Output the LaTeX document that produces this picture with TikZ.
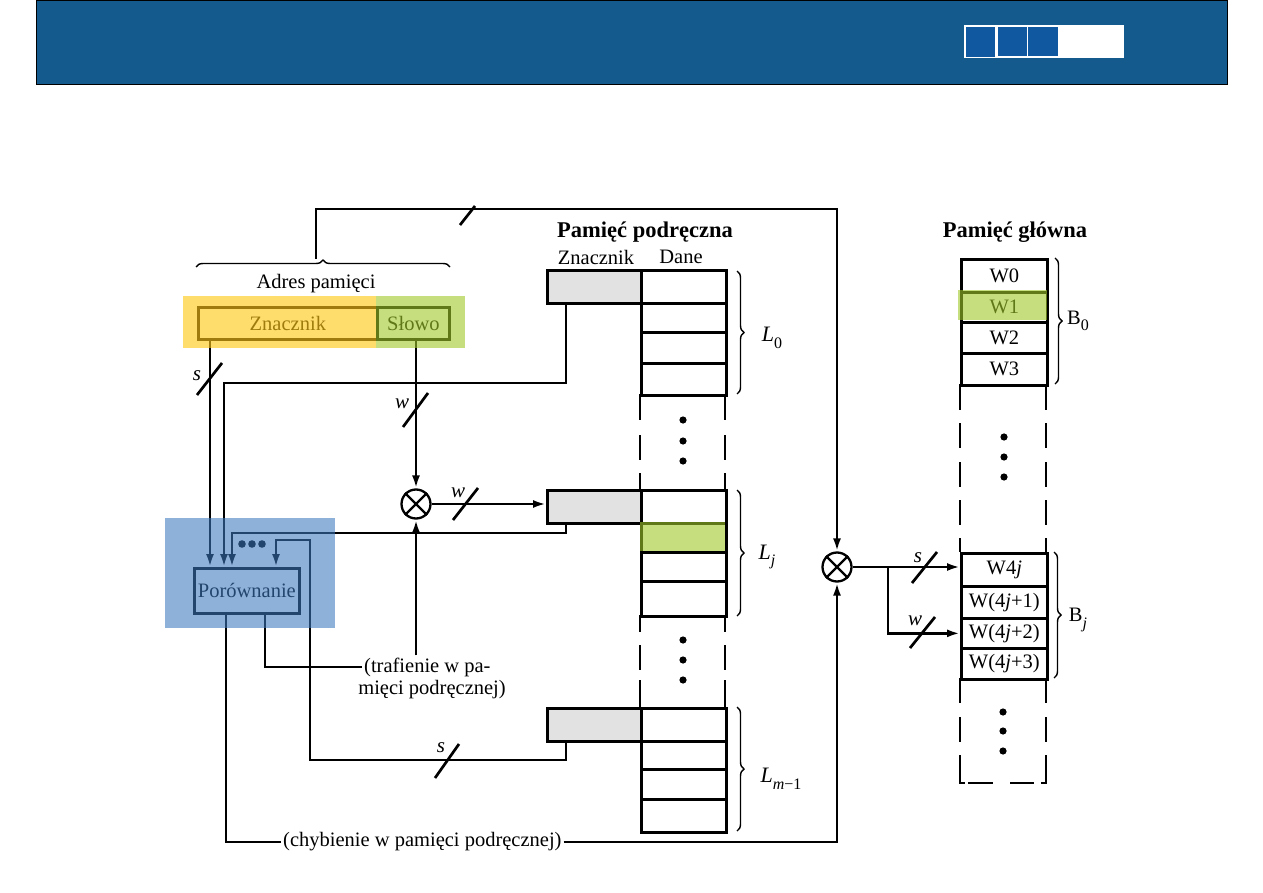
\documentclass[tikz,border=0pt]{standalone}
\usepackage{fontspec}
\setmainfont{Liberation Serif}
\usetikzlibrary{arrows.meta,decorations.pathreplacing}
\definecolor{barblue}{RGB}{21,90,140}
\definecolor{sqblue}{RGB}{16,88,160}
\definecolor{hlyellow}{RGB}{255,200,20}
\definecolor{hlgreen}{RGB}{160,200,40}
\definecolor{hlblue}{RGB}{60,120,190}
\definecolor{tagfill}{RGB}{226,226,226}
\newcommand\lsub[1]{\raisebox{-0.3em}{\fontsize{16}{16}\selectfont #1}}
\begin{document}
\begin{tikzpicture}[x=1pt,y=-1pt,
  txt/.style={font=\fontsize{20.5}{24}\selectfont},
  head/.style={font=\fontsize{22.5}{26}\selectfont\bfseries},
  lab/.style={font=\fontsize{21}{24}\selectfont\itshape,inner sep=0pt},
  ln/.style={line width=2.7pt},
  arr/.style={ln,-{Latex[length=13pt,width=8pt]}},
  slashln/.style={line width=2.7pt},
  box/.style={draw,line width=2.7pt,inner sep=0pt,anchor=north west},
  tagbox/.style={box,fill=tagfill,minimum width=94pt,minimum height=33pt},
  crow/.style={box,minimum width=85pt},
  mrow/.style={box,minimum width=86pt,font=\fontsize{20.5}{24}\selectfont},
  mix/.style={circle,draw,line width=2.3pt,minimum size=29pt,inner sep=0pt},
  brc/.style={decorate,decoration={brace,amplitude=7pt},line width=1.4pt},
  dot/.style={fill=black}
]
\useasboundingbox (0,0) rectangle (1263,893);
% header bar
\fill[barblue] (36,0) rectangle (1227,84);
\draw[black,line width=0.8pt] (36,0.4) rectangle (1227,84);
\fill[white] (964,25) rectangle (1124,58);
\fill[sqblue] (966,27.5) rectangle (995,57.5);
\fill[sqblue] (997.5,27) rectangle (1026.5,56.5);
\fill[sqblue] (1028,27) rectangle (1058,56.5);

% memory address
\node[txt] (adres) at (316,284) {Adres pamięci};
\node[box,txt,minimum width=179pt,minimum height=32pt] (zn) at (197,306) {Znacznik};
\node[box,txt,minimum width=72pt,minimum height=32pt] (slowo) at (376,306) {Słowo};
\draw[brc] (196,267) -- (450,267);
\coordinate (bt) at (316,259);

% comparator
\node[box,txt,minimum width=105pt,minimum height=45pt] (porow) at (193,567) {Porównanie};

% cache
\node[head] (phead) at (645,232) {Pamięć podręczna};
\node[txt] (hz) at (596,257) {Znacznik};
\node[txt] (hd) at (681,257) {Dane};

\node[tagbox] (tag0) at (546,269) {};
\node[crow,minimum height=33pt] (c0a) at (640,269) {};
\node[crow,minimum height=29pt] (c0b) at (640,302) {};
\node[crow,minimum height=31pt] (c0c) at (640,331) {};
\node[crow,minimum height=32pt] (c0d) at (640,362) {};

\node[tagbox] (tagj) at (546,489) {};
\node[crow,minimum height=33pt] (cja) at (640,489) {};
\node[crow,minimum height=29pt] (cjb) at (640,522) {};
\node[crow,minimum height=29pt] (cjc) at (640,551) {};
\node[crow,minimum height=35pt] (cjd) at (640,580) {};

\node[tagbox] (tagm) at (546,707) {};
\node[crow,minimum height=33pt] (cma) at (640,707) {};
\node[crow,minimum height=28pt] (cmb) at (640,740) {};
\node[crow,minimum height=30pt] (cmc) at (640,768) {};
\node[crow,minimum height=33pt] (cmd) at (640,798) {};

\foreach \x in {640,725}{
  \draw[ln] (\x,394) -- (\x,420); \draw[ln] (\x,435) -- (\x,460); \draw[ln] (\x,473) -- (\x,489);
  \draw[ln] (\x,615) -- (\x,632); \draw[ln] (\x,645) -- (\x,670); \draw[ln] (\x,680) -- (\x,707);
}
\foreach \y in {420,441,461,640,660,680}{\fill[dot] (683,\y) circle (3.6);}

\draw[brc] (737,271) -- (737,394);
\draw[brc] (737,490) -- (737,616);
\draw[brc] (737,707) -- (737,831);
\node[lab,font=\fontsize{22}{24}\selectfont\itshape] (l0) at (772,338) {L\lsub{\upshape 0}};
\node[lab,font=\fontsize{22}{24}\selectfont\itshape] (lj) at (767,557) {L\lsub{j}};
\node[lab,font=\fontsize{22}{24}\selectfont\itshape] (lm) at (781,779) {L\lsub{m\upshape −1}};

% main memory
\node[head] (mhead) at (1015,232) {Pamięć główna};
\node[mrow,minimum height=33pt] (w0) at (960,258) {W0};
\node[mrow,minimum height=30pt] (w1) at (960,291) {W1};
\node[mrow,minimum height=31pt] (w2) at (960,321) {W2};
\node[mrow,minimum height=32pt] (w3) at (960,352) {W3};
\node[mrow,minimum height=33pt] (w4j) at (960,552) {W4\textit{j}};
\node[mrow,minimum height=32pt] (w4j1) at (960,585) {W(4\textit{j}+1)};
\node[mrow,minimum height=30pt] (w4j2) at (960,617) {W(4\textit{j}+2)};
\node[mrow,minimum height=31pt] (w4j3) at (960,647) {W(4\textit{j}+3)};
\foreach \x in {960,1046}{
  \draw[ln] (\x,384) -- (\x,410); \draw[ln] (\x,423) -- (\x,448); \draw[ln] (\x,462) -- (\x,487);
  \draw[ln] (\x,500) -- (\x,525); \draw[ln] (\x,538) -- (\x,552);
  \draw[ln] (\x,678) -- (\x,703); \draw[ln] (\x,717) -- (\x,742);
}
\draw[ln] (960,755) -- (960,783) -- (965,783);
\draw[ln] (968,783) -- (993,783);
\draw[ln] (1010,783) -- (1034,783);
\draw[ln] (1041,783) -- (1046,783) -- (1046,755);
\foreach \y in {437,457,477}{\fill[dot] (1004,\y) circle (3.6);}
\foreach \y in {712,731,751}{\fill[dot] (1003,\y) circle (3.6);}
\draw[brc] (1055,258) -- (1055,384);
\draw[brc] (1054,552) -- (1054,678);
\node[txt,inner sep=0pt] (b0) at (1078,321) {B\lsub{0}};
\node[txt,inner sep=0pt] (bj) at (1078,620) {B\lsub{\itshape j}};

% mixers
\node[mix] (mix1) at (416,504) {};
\draw[line width=2.3pt] (mix1.north west) -- (mix1.south east) (mix1.north east) -- (mix1.south west);
\node[mix] (mix2) at (837,567) {};
\draw[line width=2.3pt] (mix2.north west) -- (mix2.south east) (mix2.north east) -- (mix2.south west);

% texts
\node[txt,anchor=west,inner sep=2pt] (traf1) at (362,667) {(trafienie w pa-};
\node[txt,inner sep=0pt] (traf2) at (432,690) {mięci podręcznej)};
\node[txt,anchor=west,inner sep=2pt] (chyb) at (281,842) {(chybienie w pamięci podręcznej)};

% coordinates
\coordinate (xa) at (210,0);
\coordinate (xb) at (224,0);
\coordinate (xc) at (232,0);
\coordinate (xd) at (276,0);
\coordinate (xe) at (310,0);
\coordinate (xt) at (566,0);
\coordinate (xm) at (226,0);
\coordinate (xh) at (265,0);
\coordinate (xbr) at (888,0);
\coordinate (ya) at (0,383);
\coordinate (yb) at (0,533);
\coordinate (yc) at (0,540);
\coordinate (yd) at (0,760);
\coordinate (ytop) at (0,209);

% connectors
\draw[arr] (zn.south -| xa) -- (porow.north -| xa);
\draw[arr] (tag0.south -| xt) -- (xt |- ya) -| (porow.north -| xb);
\draw[arr] (tagj.south -| xt) -- (xt |- yb) -| (porow.north -| xc);
\draw[arr] (tagm.south -| xt) -- (xt |- yd) -| (xe |- yc) -| (porow.north -| xd);
\draw[arr] (slowo.south -| mix1) -- (mix1.north);
\draw[arr] (mix1.east) -- (tagj.west |- mix1.east);
\draw[arr] (traf1.north -| mix1) -- (mix1.south);
\draw[ln] (porow.south -| xh) |- (traf1.west);
\draw[ln] (porow.south -| xm) |- (chyb.west);
\draw[arr] (chyb.east) -| (mix2.south);
\draw[arr] (bt) -- (bt |- ytop) -| (mix2.north);
\draw[arr] (mix2.east) -- (w4j.west |- mix2.east);
\draw[arr] (xbr |- mix2.east) |- (w4j2.west);
\foreach \x in {242,252,262}{\fill[dot] (\x,544) circle (3.8);}

% bus slashes and labels
\draw[slashln] (460,225) -- (475,206);
\draw[slashln] (197,395) -- (222,363);
\node[lab] (ls1) at (197,376) {s};
\draw[slashln] (403,427) -- (428,393);
\node[lab] (lw1) at (402,404) {w};
\draw[slashln] (453,520) -- (478,488);
\node[lab] (lw2) at (458,493) {w};
\draw[slashln] (435,778) -- (459,744);
\node[lab] (ls2) at (441,748) {s};
\draw[slashln] (912,583) -- (937,552);
\node[lab] (ls3) at (918,558) {s};
\draw[slashln] (910,648) -- (935,617);
\node[lab] (lw3) at (915,621) {w};

% highlights
\fill[hlyellow,opacity=0.62] (183,296) rectangle (376,348);
\fill[hlgreen,opacity=0.6] (376,296) rectangle (465,348);
\fill[hlblue,opacity=0.58] (165,518) rectangle (335,628);
\fill[hlgreen,opacity=0.6] (640,522) rectangle (725,551);
\fill[hlgreen,opacity=0.6] (958,290) rectangle (1047,320);
\end{tikzpicture}
\end{document}
